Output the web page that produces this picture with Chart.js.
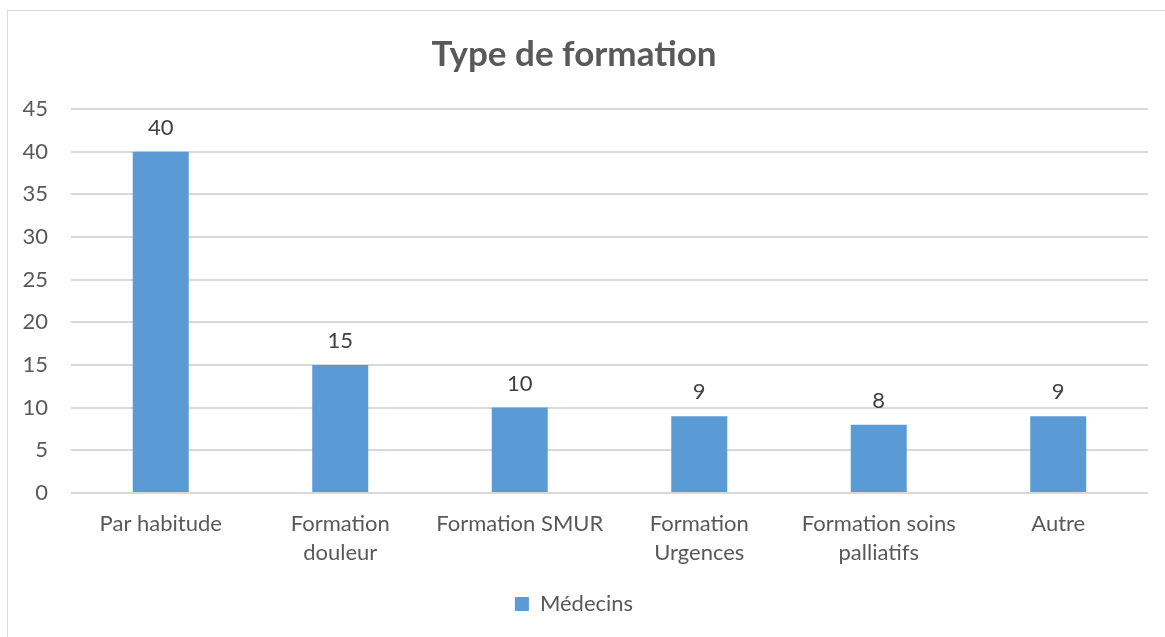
<!DOCTYPE html>
<html>
<head>
<meta charset="utf-8">
<script src="https://cdn.jsdelivr.net/npm/chart.js@4/dist/chart.umd.min.js"></script>
<style>
html,body{margin:0;padding:0;background:#fff;}
#wrap{position:absolute;left:0;top:0;width:1165px;height:637px;}
</style>
</head>
<body>
<div id="wrap"><canvas id="c" width="1165" height="637"></canvas></div>
<script>
const categories = ['Par habitude', ['Formation','douleur'], 'Formation SMUR', ['Formation','Urgences'], ['Formation soins','palliatifs'], 'Autre'];
const medecins = [40, 15, 10, 9, 8, 9];
const seriesName = 'Médecins';
const chartTitle = 'Type de formation';

const FONT = 'Lato, "Open Sans", sans-serif';

const framePlugin = {
  id: 'frame',
  beforeDraw(chart) {
    const ctx = chart.ctx;
    ctx.save();
    ctx.fillStyle = '#fff';
    ctx.fillRect(0, 0, chart.width, chart.height);
    ctx.strokeStyle = '#d9d9d9';
    ctx.lineWidth = 1;
    ctx.strokeRect(7.5, 10.5, 1200, 700);
    ctx.restore();
  }
};

const valueLabels = {
  id: 'valueLabels',
  afterDatasetsDraw(chart) {
    const ctx = chart.ctx;
    const meta = chart.getDatasetMeta(0);
    ctx.save();
    ctx.font = '22px ' + FONT;
    ctx.fillStyle = '#404040';
    ctx.textAlign = 'center';
    ctx.textBaseline = 'middle';
    meta.data.forEach((bar, i) => {
      ctx.fillText(String(chart.data.datasets[0].data[i]), bar.x, bar.y - 24);
    });
    ctx.restore();
  }
};

new Chart(document.getElementById('c'), {
  type: 'bar',
  data: {
    labels: categories,
    datasets: [{
      label: seriesName,
      data: medecins,
      backgroundColor: '#5B9BD5',
      borderWidth: 0,
      categoryPercentage: 1,
      barPercentage: 0.312
    }]
  },
  options: {
    responsive: false,
    animation: false,
    layout: { padding: { left: 0, right: 17, top: 0, bottom: 12 } },
    plugins: {
      title: {
        display: true,
        text: chartTitle,
        color: '#595959',
        font: { family: FONT, size: 35, weight: 'bold', lineHeight: 1.2 },
        padding: { top: 34, bottom: 33 }
      },
      legend: {
        display: true,
        position: 'bottom',
        labels: {
          color: '#595959',
          font: { family: FONT, size: 22 },
          boxWidth: 14,
          boxHeight: 14,
          padding: 10
        }
      },
      tooltip: { enabled: false }
    },
    scales: {
      x: {
        grid: { display: false, drawTicks: false },
        border: { display: false },
        ticks: {
          color: '#595959',
          font: { family: FONT, size: 22, lineHeight: 1.32 },
          padding: 16,
          maxRotation: 0,
          autoSkip: false
        }
      },
      y: {
        min: 0,
        max: 45,
        grid: { color: '#d9d9d9', lineWidth: 2, drawTicks: false },
        border: { display: false },
        ticks: {
          stepSize: 5,
          color: '#595959',
          font: { family: FONT, size: 22 },
          padding: 23
        },
        afterFit(scale) { scale.width = 71; }
      }
    }
  },
  plugins: [framePlugin, valueLabels]
});
</script>
</body>
</html>
